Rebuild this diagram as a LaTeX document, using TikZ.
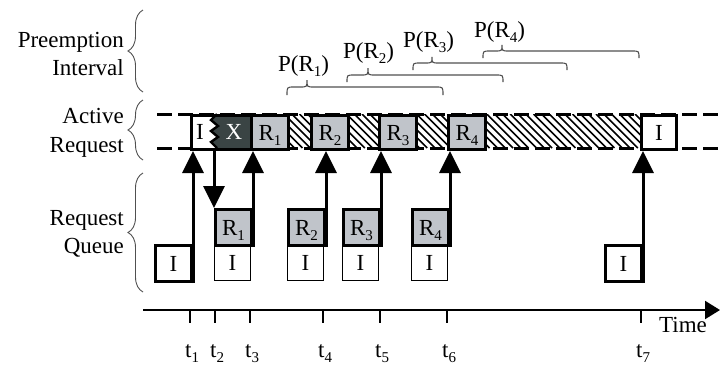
\documentclass[tikz,border=0pt]{standalone}
\usepackage{fontspec}
\setmainfont{Liberation Serif}
\usetikzlibrary{arrows.meta,decorations.pathreplacing}
\definecolor{darkx}{RGB}{58,68,68}
\definecolor{lightr}{RGB}{192,196,202}
\definecolor{bracec}{RGB}{80,80,80}
\newcommand\mysub[1]{\raisebox{-5pt}{\fontsize{15}{15}\selectfont #1}}
\newcommand\asymbrace[6]{%
  \draw[pbrace] (#1,#4) .. controls (#1,#5) .. (#1+7,#5) -- (#2-7,#5)
    .. controls (#2,#5) .. (#2,#6) .. controls (#2,#5) .. (#2+7,#5)
    -- (#3-7,#5) .. controls (#3,#5) .. (#3,#4);}
\tikzset{
  abox/.style={draw, line width=3pt, minimum height=34pt, inner sep=0pt,
    text height=16pt, text depth=0pt, anchor=north west},
  qthick/.style={draw, line width=3pt, minimum width=36pt, minimum height=36pt,
    inner sep=0pt, text height=16pt, text depth=0pt, anchor=north west},
  qthin/.style={draw, line width=1pt, minimum width=36pt, minimum height=36pt,
    inner sep=0pt, text height=16pt, text depth=0pt, anchor=north west, fill=white},
  arr/.style={line width=3pt, -{Triangle[length=22pt,width=21pt]}},
  pbrace/.style={draw=bracec, line width=1.1pt},
  bigbrace/.style={draw=bracec, line width=0.9pt, decorate,
    decoration={brace, amplitude=15pt}},
  sidelbl/.style={anchor=base east, inner sep=0pt},
  plbl/.style={anchor=base west, inner sep=0pt},
  tlbl/.style={anchor=base west, inner sep=0pt},
  dashline/.style={line width=3pt, dash pattern=on 15pt off 6pt},
  tick/.style={line width=1.6pt}
}
\begin{document}
\begin{tikzpicture}[x=1pt,y=-1pt,font=\fontsize{23}{23}\selectfont]
\useasboundingbox (0,0) rectangle (720,365);

% side labels
\node[sidelbl] (lpre) at (124,47) {Preemption};
\node[sidelbl] (lint) at (124,75) {Interval};
\node[sidelbl] (lact) at (124,123) {Active};
\node[sidelbl] (lreq) at (124,152) {Request};
\node[sidelbl] (lreq2) at (124,225) {Request};
\node[sidelbl] (lque) at (124,253) {Queue};
\draw[bigbrace] (143,92) -- (143,10);
\draw[bigbrace] (143,160) -- (143,100);
\draw[bigbrace] (143,292) -- (143,173);

% preemption intervals
\node[plbl] (p1) at (278,71) {P(R\mysub{1})};
\node[plbl] (p2) at (343,58) {P(R\mysub{2})};
\node[plbl] (p3) at (403,47) {P(R\mysub{3})};
\node[plbl] (p4) at (474,37) {P(R\mysub{4})};
\asymbrace{287}{307}{443}{95}{87}{80}
\asymbrace{347}{368}{503}{82}{75}{68}
\asymbrace{413}{432}{567}{70}{63}{57}
\asymbrace{483}{502}{639}{58}{51}{45}

% hatching
\begin{scope}
\clip (287,114) rectangle (640,148);
\foreach \k in {0,...,52} \draw[line width=1.6pt] (245+7.8*\k,114) -- (279+7.8*\k,148);
\end{scope}

% dashed band lines
\draw[dashline] (157,114) -- (720,114);
\draw[dashline] (157,148) -- (720,148);

% I / X box
\fill[white] (190,114) -- (217,114) -- (211,120) -- (218,126) -- (211,131) -- (218,137) -- (211,142) -- (217,148) -- (190,148) -- cycle;
\fill[darkx] (217,114) -- (211,120) -- (218,126) -- (211,131) -- (218,137) -- (211,142) -- (217,148) -- (250,148) -- (250,114) -- cycle;
\draw[line width=2.4pt, line join=miter] (217,114) -- (211,120) -- (218,126) -- (211,131) -- (218,137) -- (211,142) -- (217,148);
\node[abox, minimum width=60pt] (aIX) at (190,114) {};
\node[anchor=base, inner sep=0pt] (tI) at (200,139) {I};
\node[anchor=base, inner sep=0pt, text=white] (tX) at (234,139) {X};

% active boxes
\node[abox, minimum width=37pt, fill=lightr] (aR1) at (250,114) {R\mysub{1}};
\node[abox, minimum width=37pt, fill=lightr] (aR2) at (310,114) {R\mysub{2}};
\node[abox, minimum width=37pt, fill=lightr] (aR3) at (378,114) {R\mysub{3}};
\node[abox, minimum width=37pt, fill=lightr] (aR4) at (447,114) {R\mysub{4}};
\node[abox, minimum width=35pt, fill=white] (aI7) at (640,114) {I};

% queue boxes
\node[qthin] (qI1) at (214,244) {I};
\node[qthin] (qI2) at (287,244) {I};
\node[qthin] (qI3) at (342,244) {I};
\node[qthin] (qI4) at (411,244) {I};
\node[qthick, fill=white] (q1) at (154,244) {I};
\node[qthick, fill=lightr] (qR1) at (214,208) {R\mysub{1}};
\node[qthick, fill=lightr] (qR2) at (287,208) {R\mysub{2}};
\node[qthick, fill=lightr] (qR3) at (342,208) {R\mysub{3}};
\node[qthick, fill=lightr] (qR4) at (411,208) {R\mysub{4}};
\node[qthick, fill=white] (q7) at (604,244) {I};

% arrows
\draw[arr] (q1.south east) -- (q1.south east |- aIX.south);
\draw[arr] (qR1.north west |- aIX.south) -- (qR1.north west);
\draw[arr] (qR1.south east) -- (qR1.south east |- aR1.south);
\draw[arr] (qR2.south east) -- (qR2.south east |- aR2.south);
\draw[arr] (qR3.south east) -- (qR3.south east |- aR3.south);
\draw[arr] (qR4.south east) -- (qR4.south east |- aR4.south);
\draw[arr] (q7.south east) -- (q7.south east |- aI7.south);

% time axis
\coordinate (ax0) at (143,310);
\coordinate (ax1) at (720,310);
\draw[line width=2.2pt, -{Triangle[length=15pt,width=18pt]}] (ax0) -- (ax1);
\foreach \x/\i in {190/1,215/2,250/3,323/4,380/5,447/6,641/7}{
  \draw[tick] (\x,310) -- (\x,323);
  \node[tlbl] (t\i) at (\x-5,357) {t\mysub{\i}};
}
\node[anchor=base west, inner sep=0pt] (time) at (659,332) {Time};
\end{tikzpicture}
\end{document}
